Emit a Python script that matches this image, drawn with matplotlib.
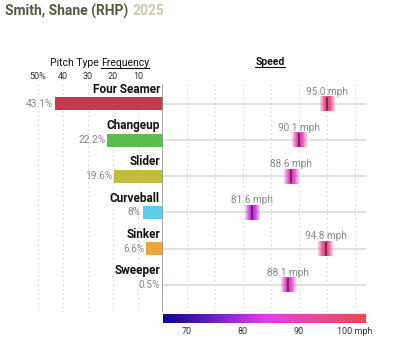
import matplotlib
matplotlib.use("Agg")
import matplotlib.pyplot as plt
import numpy as np
from matplotlib.colors import LinearSegmentedColormap, to_rgb
from matplotlib.lines import Line2D

plt.rcParams['font.family'] = ['Roboto', 'DejaVu Sans']

pitches = ['Four Seamer', 'Changeup', 'Slider', 'Curveball', 'Sinker', 'Sweeper']
freq = [43.1, 22.2, 19.6, 8, 6.6, 0.5]
freq_labels = ['43.1%', '22.2%', '19.6%', '8%', '6.6%', '0.5%']
speed = [95.0, 90.1, 88.6, 81.6, 94.8, 88.1]
colors = ['#c63a50', '#5bbd4f', '#c2bd3e', '#5ccde8', '#f0a23c', '#e6c23c']

freq_ticks = [50, 40, 30, 20, 10]
freq_ticklabels = ['50%', '40', '30', '20', '10']
speed_ticks = [70, 80, 90, 100]
speed_ticklabels = ['70', '80', '90', '100 mph']

smin, smax = 65.7, 102.0
cmap = LinearSegmentedColormap.from_list('spd', [
    (0.0, '#0c0a8a'), (0.25, '#6a1fc0'), (0.5, '#e23ee6'),
    (0.75, '#e64a9c'), (1.0, '#ea4a48')])

fig = plt.figure(figsize=(4, 3.46), dpi=100)
W, H = 400, 346

def box(x0, y0, x1, y1):
    return [x0 / W, 1 - y1 / H, (x1 - x0) / W, (y1 - y0) / H]

axL = fig.add_axes(box(20, 84, 163, 312))
axR = fig.add_axes(box(163, 84, 366, 312))
axC = fig.add_axes(box(163, 314, 366, 323))

ys = np.arange(len(pitches))

# left: frequency
axL.set_xlim(57.2, 0)
axL.set_ylim(5.75, -0.55)
for t in freq_ticks:
    axL.axvline(t, color='#c8c8c8', lw=0.8, ls=(0, (1, 3)), zorder=0)
axL.barh(ys, freq, height=0.36, color=colors, zorder=2)
for y, f, lab, name in zip(ys, freq, freq_labels, pitches):
    axL.text(f + 0.8, y, lab, ha='right', va='center', fontsize=7.3, color='#888888')
    axL.text(1.2, y - 0.4, name, ha='right', va='center', fontsize=8.5,
             fontweight='bold', color='#111111')
axL.axvline(0, color='#999999', lw=1.2, zorder=3)
axL.xaxis.tick_top()
axL.set_xticks(freq_ticks)
axL.set_xticklabels(freq_ticklabels, fontsize=6.5, color='#333333')
axL.tick_params(axis='x', length=0, pad=2)
axL.set_yticks([])
for s in axL.spines.values():
    s.set_visible(False)

# right: speed
axR.set_xlim(smin, smax)
axR.set_ylim(5.75, -0.55)
for t in np.arange(70, 101, 5):
    axR.axvline(t, color='#c8c8c8', lw=0.8, ls=(0, (1, 3)), zorder=0)
for y in ys:
    axR.axhline(y, color='#dddddd', lw=1.2, zorder=1)
xs = np.linspace(-1, 1, 40)
alpha = np.clip(1.15 - np.abs(xs) ** 1.5, 0.25, 1)
for y, s in zip(ys, speed):
    c = to_rgb(cmap((s - smin) / (smax - smin)))
    img = np.zeros((1, len(xs), 4))
    img[0, :, :3] = c
    img[0, :, 3] = alpha
    axR.imshow(img, extent=(s - 1.3, s + 1.3, y + 0.2, y - 0.2), aspect='auto',
               interpolation='bilinear', zorder=3)
    dark = tuple(v * 0.45 for v in c)
    axR.plot([s, s], [y - 0.17, y + 0.17], color=dark, lw=1.2, zorder=4)
    axR.text(s, y - 0.34, '%.1f mph' % s, ha='center', va='center',
             fontsize=7.2, color='#888888')
axR.set_xticks([])
axR.set_yticks([])
for s in axR.spines.values():
    s.set_visible(False)

# colour bar
grad = np.linspace(0, 1, 256).reshape(1, -1)
axC.imshow(grad, cmap=cmap, extent=(smin, smax, 0, 1), aspect='auto')
axC.set_xlim(smin, smax)
axC.set_xticks(speed_ticks)
axC.set_xticklabels(speed_ticklabels, fontsize=6.5, color='#333333')
axC.tick_params(axis='x', length=0, pad=3)
axC.set_yticks([])
for s in axC.spines.values():
    s.set_visible(False)

# titles
t1 = fig.text(5 / W, 1 - 11 / H, 'Smith, Shane (RHP)', fontsize=10,
              fontweight='bold', color='#5a5642', va='center')
fig.canvas.draw()
bb = t1.get_window_extent()
fig.text(bb.x1 / W + 4 / W, 1 - 11 / H, '2025', fontsize=10,
         fontweight='bold', color='#cdc8b4', va='center')

h1 = fig.text(101 / W, 1 - 63 / H, 'Pitch Type ', fontsize=7.5, color='#111111',
              ha='right', va='center')
h2 = fig.text(101 / W, 1 - 63 / H, 'Frequency', fontsize=7.5, color='#111111',
              ha='left', va='center')
h3 = fig.text(270 / W, 1 - 62 / H, 'Speed', fontsize=7.5, fontweight='bold',
              color='#111111', ha='center', va='center')
fig.canvas.draw()
for h in (h2, h3):
    b = h.get_window_extent()
    fig.add_artist(Line2D([b.x0 / W, b.x1 / W], [(b.y0 + 0.5) / H, (b.y0 + 0.5) / H],
                          color='#111111', lw=0.8, transform=fig.transFigure))

fig.savefig('out.png', dpi=100)
